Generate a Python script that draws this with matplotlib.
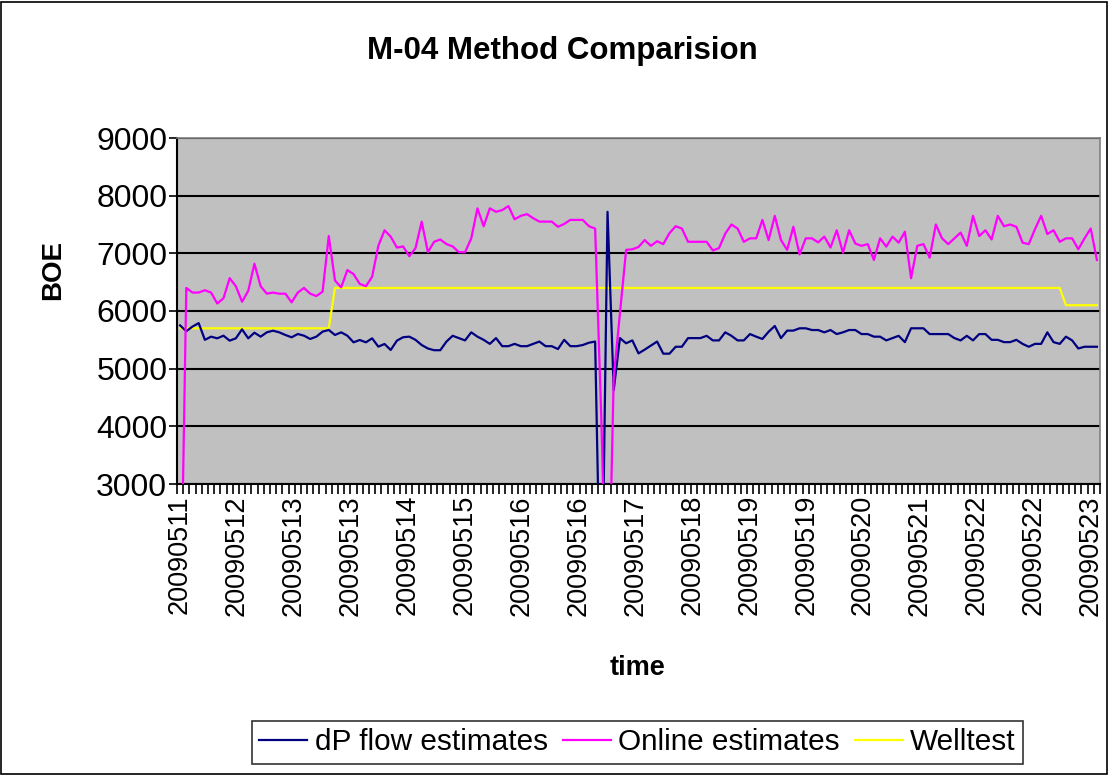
import matplotlib
matplotlib.use("Agg")
import matplotlib.pyplot as plt
import numpy as np
from matplotlib.patches import Rectangle

plt.rcParams['font.family'] = ['Liberation Sans', 'DejaVu Sans']

# ---- data (149 samples) ----
dp_flow = [
    5750, 5650, 5730, 5790, 5500, 5555, 5526, 5572, 5486, 5526,
    5682, 5526, 5624, 5555, 5630, 5659, 5630, 5584, 5544, 5601,
    5572, 5515, 5555, 5642, 5671, 5584, 5630, 5572, 5457, 5497,
    5457, 5526, 5382, 5428, 5324, 5486, 5545, 5555, 5500, 5410,
    5350, 5320, 5320, 5470, 5570, 5530, 5490, 5630, 5555, 5500,
    5430, 5530, 5390, 5390, 5430, 5390, 5390, 5430, 5470, 5390,
    5390, 5340, 5500, 5390, 5390, 5410, 5450, 5470, 0, 7720,
    4630, 5530, 5440, 5490, 5265, 5330, 5400, 5470, 5260, 5260,
    5380, 5380, 5530, 5530, 5530, 5570, 5490, 5490, 5630, 5570,
    5490, 5490, 5600, 5555, 5515, 5640, 5740, 5530, 5660, 5660,
    5700, 5700, 5670, 5670, 5630, 5670, 5600, 5630, 5670, 5670,
    5600, 5600, 5555, 5555, 5490, 5530, 5570, 5460, 5700, 5700,
    5700, 5600, 5600, 5600, 5600, 5530, 5490, 5570, 5490, 5600,
    5600, 5500, 5500, 5460, 5460, 5500, 5430, 5380, 5430, 5430,
    5630, 5460, 5430, 5555, 5490, 5350, 5380, 5380, 5380,
]

online = [
    0, 6400, 6320, 6320, 6360, 6320, 6130, 6220, 6570, 6430,
    6160, 6350, 6820, 6430, 6300, 6320, 6300, 6300, 6150, 6320,
    6400, 6300, 6260, 6335, 7300, 6530, 6410, 6710, 6640, 6470,
    6430, 6595, 7130, 7400, 7290, 7100, 7120, 6950, 7090, 7550,
    7020, 7200, 7240, 7160, 7120, 7020, 7020, 7260, 7780, 7470,
    7780, 7720, 7750, 7820, 7590, 7650, 7680, 7610, 7550, 7550,
    7550, 7460, 7510, 7580, 7580, 7580, 7470, 7430, 4130, 0,
    4850, 5950, 7060, 7070, 7110, 7230, 7130, 7210, 7160, 7350,
    7470, 7430, 7200, 7200, 7200, 7200, 7050, 7090, 7340, 7500,
    7430, 7200, 7260, 7260, 7580, 7230, 7650, 7230, 7060, 7460,
    6980, 7260, 7260, 7190, 7290, 7100, 7400, 7010, 7400, 7170,
    7130, 7160, 6885, 7260, 7116, 7290, 7185, 7375, 6567, 7130,
    7160, 6925, 7500, 7260, 7160, 7260, 7360, 7130, 7650, 7300,
    7400, 7240, 7650, 7470, 7500, 7460, 7185, 7160, 7420, 7650,
    7335, 7400, 7200, 7260, 7260, 7070, 7260, 7430, 6885,
]

welltest = [
    5700, 5700, 5700, 5700, 5700, 5700, 5700, 5700, 5700, 5700,
    5700, 5700, 5700, 5700, 5700, 5700, 5700, 5700, 5700, 5700,
    5700, 5700, 5700, 5700, 5700, 6400, 6400, 6400, 6400, 6400,
    6400, 6400, 6400, 6400, 6400, 6400, 6400, 6400, 6400, 6400,
    6400, 6400, 6400, 6400, 6400, 6400, 6400, 6400, 6400, 6400,
    6400, 6400, 6400, 6400, 6400, 6400, 6400, 6400, 6400, 6400,
    6400, 6400, 6400, 6400, 6400, 6400, 6400, 6400, 6400, 6400,
    6400, 6400, 6400, 6400, 6400, 6400, 6400, 6400, 6400, 6400,
    6400, 6400, 6400, 6400, 6400, 6400, 6400, 6400, 6400, 6400,
    6400, 6400, 6400, 6400, 6400, 6400, 6400, 6400, 6400, 6400,
    6400, 6400, 6400, 6400, 6400, 6400, 6400, 6400, 6400, 6400,
    6400, 6400, 6400, 6400, 6400, 6400, 6400, 6400, 6400, 6400,
    6400, 6400, 6400, 6400, 6400, 6400, 6400, 6400, 6400, 6400,
    6400, 6400, 6400, 6400, 6400, 6400, 6400, 6400, 6400, 6400,
    6400, 6400, 6400, 6100, 6100, 6100, 6100, 6100, 6100,
]

date_labels = [
    '20090511', '20090512', '20090513', '20090513', '20090514',
    '20090515', '20090516', '20090516', '20090517', '20090518',
    '20090519', '20090519', '20090520', '20090521', '20090522',
    '20090522', '20090523',
]

n = len(dp_flow)
x = np.arange(n)

fig = plt.figure(figsize=(11.09, 7.75), dpi=100)
ax = fig.add_axes([177 / 1109, 1 - 484 / 775, 923 / 1109, 346 / 775])
ax.set_facecolor('#C0C0C0')

ax.plot(x, welltest, color='#FFFF00', lw=1.6, label='Welltest', zorder=2)
ax.plot(x, dp_flow, color='#000080', lw=1.6, label='dP flow estimates', zorder=3)
ax.plot(x, online, color='#FF00FF', lw=1.6, label='Online estimates', zorder=3)

ax.set_xlim(-0.5, n - 0.5)
ax.set_ylim(3000, 9000)
ax.set_yticks(np.arange(3000, 9001, 1000))
ax.yaxis.grid(True, color='black', lw=1.5)
ax.set_axisbelow(True)

# tick marks between categories; the date labels are spread evenly over the axis
ax.xaxis.remove_overlapping_locs = False
ax.set_xticks(np.arange(n + 1) - 0.5)
ax.set_xticklabels([])
ax.set_xticks(np.linspace(0, n - 2, len(date_labels)), date_labels, minor=True)
ax.tick_params(axis='x', which='major', length=7, width=1.2, direction='out')
ax.tick_params(axis='x', which='minor', length=0, pad=8, labelsize=19.5,
               labelrotation=90)
ax.tick_params(axis='y', length=6, width=1.2, pad=1, labelsize=23)

for side in ('top', 'right'):
    ax.spines[side].set_color('#808080')
    ax.spines[side].set_linewidth(1.2)
for side in ('left', 'bottom'):
    ax.spines[side].set_color('black')
    ax.spines[side].set_linewidth(1.5)

fig.text(562 / 1109, 1 - 51 / 775, 'M-04 Method Comparision', ha='center',
         va='center', fontsize=22.5, fontweight='bold')
fig.text(638 / 1109, 1 - 668 / 775, 'time', ha='center', va='center',
         fontsize=19.5, fontweight='bold')
fig.text(53 / 1109, 1 - 270 / 775, 'BOE', ha='center', va='center',
         rotation=90, fontsize=20, fontweight='bold')

handles, labels = ax.get_legend_handles_labels()
order = [1, 2, 0]
leg = fig.legend([handles[i] for i in order], [labels[i] for i in order],
                 loc='center', bbox_to_anchor=(637.5 / 1109, 1 - 742.5 / 775),
                 ncol=3, fontsize=21.4, frameon=True, fancybox=False,
                 handlelength=1.62, handletextpad=0.25, columnspacing=0.5,
                 borderpad=0.25)
leg.get_frame().set_edgecolor('black')
leg.get_frame().set_linewidth(1.2)

fig.patches.append(Rectangle((0.001, 0.001), 0.997, 0.997, transform=fig.transFigure,
                             fill=False, edgecolor='black', lw=1.2))

fig.savefig('out.png', dpi=100)
